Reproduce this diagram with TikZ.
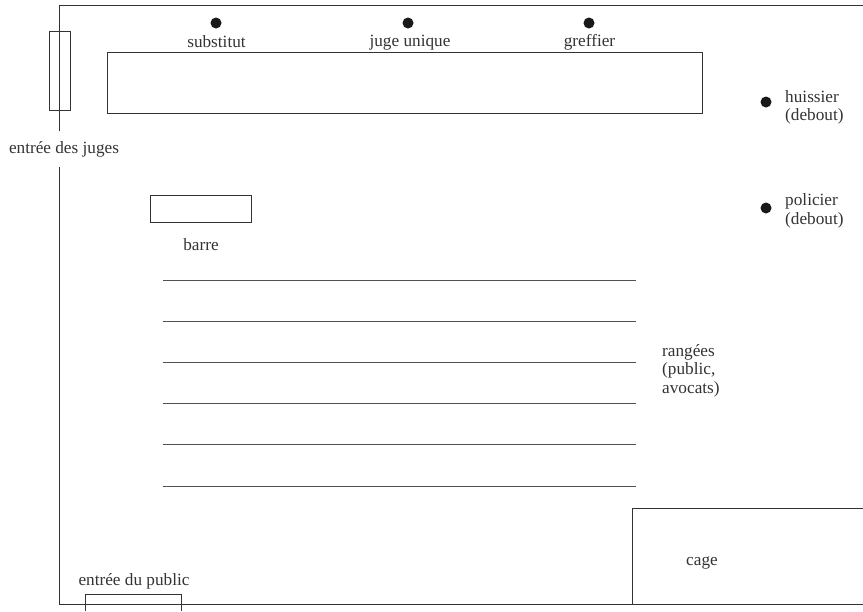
\documentclass[tikz,border=0pt]{standalone}
\usepackage{fontspec}
\setmainfont{Liberation Serif}
\usepackage{xcolor}
\usetikzlibrary{matrix,arrows}
\definecolor{trait}{gray}{0.2}
\definecolor{texte}{gray}{0.2}
\tikzset{
	mur/.style={draw=trait,line width=0.65pt},
	meuble/.style={draw=trait,line width=0.6pt},
	rangee/.style={draw=trait!85,line width=0.6pt},
	personne/.style={circle,fill=black!90,inner sep=0pt,minimum size=11*0.03cm},
	legende/.style={font=\fontsize{14.7}{16}\selectfont,text=texte,inner sep=0pt,yshift=-0.045cm},
	legendeg/.style={legende,anchor=west,align=left}
}

\begin{document}
\begin{tikzpicture}[x=0.03cm,y=-0.03cm]
		\useasboundingbox (0,0) rectangle (863,611);
		% murs de la salle
		\coordinate (M1) at (59,131);
		\coordinate (M2) at (59,5);
		\coordinate (M3) at (863,5);
		\coordinate (M4) at (59,167);
		\coordinate (M5) at (59,604);
		\coordinate (M6) at (863,604);
		\draw[mur] (M1) -- (M2) -- (M3);
		\draw[mur] (M4) -- (M5) -- (M6);
		%
		\coordinate (P1) at (85,611);
		\coordinate (P2) at (85,594);
		\coordinate (P3) at (181,594);
		\coordinate (P4) at (181,611);
		\draw[meuble] (P1) -- (P2) -- (P3) -- (P4);
		\coordinate (C1) at (632,604);
		\coordinate (C2) at (632,508.5);
		\coordinate (C3) at (863,508.5);
		\draw[mur] (C1) -- (C2) -- (C3);
		%
		\draw[meuble] (49.5,31) rectangle (70,110);
		\draw[meuble] (107,52.5) rectangle (702,113);
		\draw[meuble] (150,195.5) rectangle (251.5,222.5);
		%
		\coordinate (R1) at (163,280);
		\coordinate (R2) at (163,321);
		\coordinate (R3) at (163,362);
		\coordinate (R4) at (163,403);
		\coordinate (R5) at (163,444);
		\coordinate (R6) at (163,486);
		\coordinate (R1') at (636,280);
		\coordinate (R2') at (636,321);
		\coordinate (R3') at (636,362);
		\coordinate (R4') at (636,403);
		\coordinate (R5') at (636,444);
		\coordinate (R6') at (636,486);
		\path[rangee]
		(R1) edge (R1')
		(R2) edge (R2')
		(R3) edge (R3')
		(R4) edge (R4')
		(R5) edge (R5')
		(R6) edge (R6');
		%
		\node[personne] (substitut) at (216,23) {};
		\node[personne] (juge) at (408,23) {};
		\node[personne] (greffier) at (589,23) {};
		\node[personne] (huissier) at (766,102) {};
		\node[personne] (policier) at (766,208) {};
		%
		\node[legende] (lsubstitut) at (216.5,40.5) {substitut};
		\node[legende] (ljuge) at (410,41) {juge unique};
		\node[legende] (lgreffier) at (589.5,40.5) {greffier};
		\node[legendeg] (lhuissier) at (785,95.5) {huissier};
		\node[legendeg] (ldebouth) at (785,114.5) {(debout)};
		\node[legendeg] (lpolicier) at (785,199.5) {policier};
		\node[legendeg] (ldeboutp) at (785,219) {(debout)};
		\node[legende] (ljuges) at (64,148) {entrée des juges};
		\node[legende] (lbarre) at (201,243.5) {barre};
		\node[legendeg] (lrangees) at (662,350.5) {rangées};
		\node[legendeg] (lpublic) at (662,369) {(public,};
		\node[legendeg] (lavocats) at (662,388) {avocats)};
		\node[legende] (lcage) at (702,561.5) {cage};
		\node[legende] (lentree) at (134,580) {entrée du public};
	\end{tikzpicture}
\end{document}
